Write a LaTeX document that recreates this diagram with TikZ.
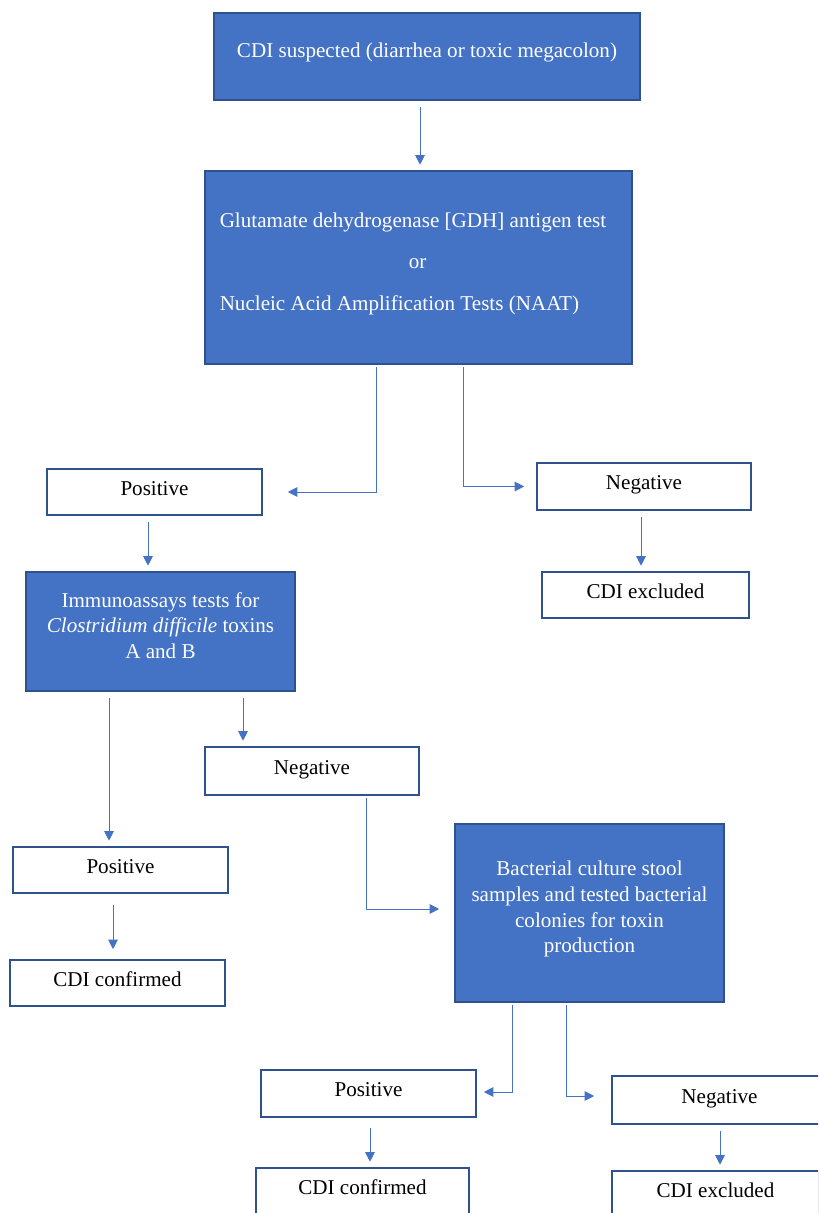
\documentclass[tikz,border=0pt]{standalone}
\usepackage{fontspec}
\setmainfont{Liberation Serif}
\usetikzlibrary{arrows.meta}
\definecolor{cFill}{HTML}{4472C4}
\definecolor{cEdge}{HTML}{2F528F}
\definecolor{cLine}{HTML}{4472C4}

\begin{document}
\begin{tikzpicture}[
  font=\fontsize{12}{14.6}\selectfont,
  tst/.style 2 args={draw=cEdge, fill=cFill, line width=.9pt, text=white,
                     align=center, minimum width=#1, minimum height=#2,
                     text depth=7pt, inner sep=2pt},
  res/.style 2 args={draw=cEdge, fill=white, line width=.9pt, text=black,
                     align=center, minimum width=#1, minimum height=#2,
                     text depth=4.5pt, inner sep=2pt},
  arr/.style={-{Triangle[length=1.9mm,width=1.9mm]}, line width=.55pt, draw=cLine,
              shorten <=1.2mm, shorten >=1.1mm},
]
\useasboundingbox (0,0) rectangle (16.36,-24.26);
\clip (0,0) rectangle (16.36,-24.26);

% ---------------- first line ----------------
\node[tst={8.52cm}{1.74cm}] (susp) at (8.54,-1.13)
  {CDI suspected (diarrhea or toxic megacolon)};
\node[tst={8.54cm}{3.86cm}, align=left] (gdh) at (8.37,-5.35)
  {Glutamate dehydrogenase [GDH] antigen test\hspace*{0.22cm}\\[0.32cm]
   \hspace*{3.78cm}or\\[0.32cm]
   Nucleic Acid Amplification Tests (NAAT)};

\draw[arr] ([xshift=-0.14cm]susp.south) -- ([xshift=-0.14cm]susp.south |- gdh.north);

% ---------------- screening result ----------------
\node[res={4.30cm}{0.92cm}] (pos1) at (3.09,-9.84) {Positive};
\node[res={4.28cm}{0.94cm}] (neg1) at (12.88,-9.73) {Negative};
\node[res={4.14cm}{0.92cm}] (excl1) at (12.91,-11.90) {CDI excluded};

\draw[arr, shorten <=0.04cm, shorten >=0.5cm] ([xshift=-0.85cm]gdh.south) |- (pos1.east);
\draw[arr, shorten <=0.04cm, shorten >=0.24cm] ([xshift=0.89cm]gdh.south) |- (neg1.west);

\node[tst={5.38cm}{2.38cm}] (immuno) at (3.21,-12.63)
  {Immunoassays tests for\\ \textit{Clostridium difficile} toxins\\ A and B};

\draw[arr] ([xshift=-0.13cm]pos1.south) -- ([xshift=-0.13cm]pos1.south |- immuno.north);
\draw[arr] ([xshift=-0.06cm]neg1.south) -- ([xshift=-0.06cm]neg1.south |- excl1.north);

% ---------------- toxin result ----------------
\node[res={4.28cm}{0.96cm}] (neg2) at (6.24,-15.42) {Negative};
\node[res={4.30cm}{0.92cm}] (pos2) at (2.41,-17.40) {Positive};
\node[res={4.30cm}{0.92cm}] (conf1) at (2.35,-19.66) {CDI confirmed};

\draw[arr] ([xshift=1.65cm]immuno.south) -- ([xshift=1.65cm]immuno.south |- neg2.north);
\draw[arr] ([xshift=-1.03cm]immuno.south) -- ([xshift=-1.03cm]immuno.south |- pos2.north);
\draw[arr, shorten <=2.2mm, shorten >=2mm] ([xshift=-0.15cm]pos2.south) -- ([xshift=-0.15cm]pos2.south |- conf1.north);

% ---------------- culture ----------------
\node[tst={5.38cm}{3.56cm}] (bact) at (11.79,-18.26)
  {Bacterial culture stool\\ samples and tested bacterial\\ colonies for toxin\\ production};
\draw[arr, shorten <=0.04cm, shorten >=0.3cm] ([xshift=1.08cm]neg2.south) |- ([yshift=0.08cm]bact.west);

\node[res={4.30cm}{0.94cm}] (pos3) at (7.37,-21.87) {Positive};
\node[res={4.30cm}{0.96cm}] (neg3) at (14.39,-22.00) {Negative};
\node[res={4.26cm}{0.92cm}] (conf2) at (7.25,-23.82) {CDI confirmed};
\node[res={4.14cm}{0.92cm}] (excl2) at (14.31,-23.88) {CDI excluded};

\draw[arr, shorten <=0.04cm, shorten >=0.14cm] ([xshift=-1.55cm]bact.south) |- ([yshift=0.03cm]pos3.east);
\draw[arr, shorten <=0.04cm, shorten >=0.34cm] ([xshift=-0.47cm]bact.south) |- ([yshift=0.08cm]neg3.west);
\draw[arr, shorten <=2mm] ([xshift=0.03cm]pos3.south) -- ([xshift=0.03cm]pos3.south |- conf2.north);
\draw[arr] ([xshift=0.01cm]neg3.south) -- ([xshift=0.01cm]neg3.south |- excl2.north);

\end{tikzpicture}
\end{document}
